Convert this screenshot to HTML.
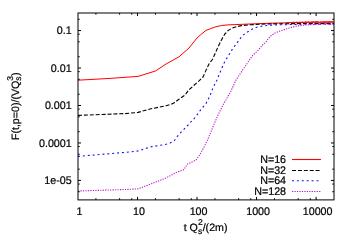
<!DOCTYPE html>
<html><head><meta charset="utf-8"><title>plot</title>
<style>
html,body{margin:0;padding:0;background:#fff;}
body{width:350px;height:245px;overflow:hidden;font-family:"Liberation Sans",sans-serif;}
svg{display:block;}
.t text{font-family:"Liberation Sans",sans-serif;fill:#000;stroke:#000;stroke-width:0.22px;text-rendering:geometricPrecision;white-space:pre;}
</style></head><body>
<svg width="350" height="245" viewBox="0 0 350 245">
<rect x="0" y="0" width="350" height="245" fill="#fff"/>
<g fill="none" stroke-linejoin="round">
<polyline points="78.0,80.2 110.0,78.4 138.0,76.4 155.5,71.0 166.0,64.0 179.0,56.8 184.0,52.4 189.0,48.0 193.0,43.0 197.0,38.0 200.7,34.7 205.9,30.4 210.0,28.9 215.0,27.0 221.3,25.5 228.0,24.9 240.0,24.4 255.0,23.8 270.0,23.2 305.0,22.4 334.0,22.2" stroke="#ff0000" stroke-width="1.0"/>
<polyline points="286.0,22.6 286.8,22.5 287.5,22.5 288.2,22.5 289.0,22.4 289.8,22.5 290.5,22.5 291.2,22.6 292.0,22.4 292.8,22.5 293.5,22.1 294.2,22.5 295.0,22.1 295.8,22.5 296.5,22.1 297.2,22.4 298.0,22.0 298.8,22.6 299.5,22.0 300.2,22.6 301.0,21.8 301.8,22.4 302.5,21.7 303.2,22.5 304.0,22.0 304.8,22.3 305.5,21.5 306.2,22.5 307.0,21.5 307.8,22.6 308.5,21.5 309.2,22.6 310.0,21.7 310.8,22.6 311.5,21.6 312.2,22.7 313.0,21.2 313.8,22.3 314.5,21.9 315.2,22.3 316.0,21.0 316.8,22.4 317.5,21.4 318.2,22.3 319.0,21.5 319.8,22.4 320.5,21.6 321.2,22.4 322.0,21.4 322.8,22.6 323.5,21.3 324.2,22.6 325.0,21.1 325.8,22.6 326.5,21.3 327.2,22.2 328.0,21.1 328.8,22.5 329.5,21.0 330.2,22.4 331.0,21.2 331.8,22.2 332.5,21.0 333.2,22.3" stroke="#ff0000" stroke-width="0.9"/>
<polyline points="78.0,115.4 125.0,113.6 138.0,112.4 150.0,109.0 166.0,105.8 173.0,103.6 178.6,99.5 185.0,95.0 188.6,90.2 194.3,85.0 199.3,80.7 203.0,77.0 206.4,69.4 209.3,63.3 212.1,60.0 213.9,56.3 216.7,50.0 217.5,48.0 221.4,40.0 224.8,34.0 228.1,30.6 231.6,28.3 234.6,27.2 241.4,25.6 250.6,24.8 259.7,24.3 270.0,23.9 305.0,23.5 334.0,23.6" stroke="#000" stroke-width="1.1" stroke-dasharray="4.0 1.9"/>
<polyline points="78.0,156.4 125.0,152.4 138.0,151.0 150.0,147.0 166.0,144.3 170.0,143.0 174.3,140.7 177.1,136.7 180.0,133.3 183.6,129.7 187.1,126.1 190.3,122.4 193.6,119.3 196.4,115.7 201.0,109.4 206.0,103.4 209.8,96.2 213.3,87.0 217.0,80.0 221.0,70.0 225.0,61.0 228.3,56.0 232.5,49.0 238.0,41.6 241.4,37.0 244.9,33.5 248.9,31.1 252.9,28.7 257.4,27.0 262.0,26.1 266.6,25.5 270.0,25.2 280.0,24.8 305.0,24.2 334.0,24.0" stroke="#1010ff" stroke-width="1.1" stroke-dasharray="2.0 2.9"/>
<polyline points="78.0,191.0 125.0,189.5 138.0,188.9 150.0,184.3 166.0,178.0 176.0,172.6 184.0,169.6 187.0,164.4 196.0,160.0 200.0,154.5 204.0,147.0 208.0,139.0 211.0,131.5 215.0,122.0 219.0,113.0 223.0,105.0 227.0,98.0 231.0,91.0 236.0,80.0 242.0,71.0 248.0,62.0 253.0,55.0 258.0,50.5 262.5,45.0 266.0,42.0 268.5,38.3 271.0,35.8 275.0,33.0 279.3,31.3 283.6,29.8 289.3,28.0 296.4,26.1 305.0,25.0 320.0,24.3 334.0,24.1" stroke="#b414c8" stroke-width="1.1" stroke-dasharray="1.2 1.27"/>
<path d="M292 159.5H321" stroke="#ff0000" stroke-width="1.1"/>
<path d="M292 170.45H321" stroke="#000" stroke-width="1.1" stroke-dasharray="4.0 1.9"/>
<path d="M292 180.8H321" stroke="#1010ff" stroke-width="1.1" stroke-dasharray="2.0 2.9"/>
<path d="M292 191.45H321" stroke="#b414c8" stroke-width="1.1" stroke-dasharray="1.2 1.27"/>
</g>
<path d="M95.92 199.9V198.20M95.92 13.0V14.70M119.60 199.9V198.20M119.60 13.0V14.70M131.75 199.9V198.20M131.75 13.0V14.70M137.52 199.9V196.90M137.52 13.0V16.00M155.44 199.9V198.20M155.44 13.0V14.70M179.12 199.9V198.20M179.12 13.0V14.70M191.27 199.9V198.20M191.27 13.0V14.70M197.04 199.9V196.90M197.04 13.0V16.00M214.96 199.9V198.20M214.96 13.0V14.70M238.64 199.9V198.20M238.64 13.0V14.70M250.79 199.9V198.20M250.79 13.0V14.70M256.56 199.9V196.90M256.56 13.0V16.00M274.48 199.9V198.20M274.48 13.0V14.70M298.17 199.9V198.20M298.17 13.0V14.70M310.31 199.9V198.20M310.31 13.0V14.70M316.08 199.9V196.90M316.08 13.0V16.00M78.0 191.71H79.70M334.0 191.71H332.30M78.0 184.06H79.70M334.0 184.06H332.30M78.0 180.43H81.00M334.0 180.43H331.00M78.0 169.15H79.70M334.0 169.15H332.30M78.0 154.24H79.70M334.0 154.24H332.30M78.0 146.59H79.70M334.0 146.59H332.30M78.0 142.96H81.00M334.0 142.96H331.00M78.0 131.68H79.70M334.0 131.68H332.30M78.0 116.77H79.70M334.0 116.77H332.30M78.0 109.12H79.70M334.0 109.12H332.30M78.0 105.49H81.00M334.0 105.49H331.00M78.0 94.21H79.70M334.0 94.21H332.30M78.0 79.30H79.70M334.0 79.30H332.30M78.0 71.65H79.70M334.0 71.65H332.30M78.0 68.02H81.00M334.0 68.02H331.00M78.0 56.74H79.70M334.0 56.74H332.30M78.0 41.83H79.70M334.0 41.83H332.30M78.0 34.18H79.70M334.0 34.18H332.30M78.0 30.55H81.00M334.0 30.55H331.00M78.0 19.27H79.70M334.0 19.27H332.30" stroke="#000" stroke-width="1" fill="none"/>
<rect x="78.0" y="13.0" width="256.0" height="186.9" fill="none" stroke="#000" stroke-width="1"/>
<g class="t" opacity="0.999"><text transform="translate(56.83 34.43) scale(1 1.03)" font-size="10.70">0.1</text><text transform="translate(50.87 71.90) scale(1 1.03)" font-size="10.70">0.01</text><text transform="translate(44.92 109.37) scale(1 1.03)" font-size="10.70">0.001</text><text transform="translate(38.97 146.84) scale(1 1.03)" font-size="10.70">0.0001</text><text transform="translate(44.33 184.31) scale(1 1.03)" font-size="10.70">1e-05</text><text transform="translate(76.57 214.50) scale(1 1.03)" font-size="10.70">1</text><text transform="translate(133.12 214.50) scale(1 1.03)" font-size="10.70">10</text><text transform="translate(189.67 214.50) scale(1 1.03)" font-size="10.70">100</text><text transform="translate(246.21 214.50) scale(1 1.03)" font-size="10.70">1000</text><text transform="translate(302.76 214.50) scale(1 1.03)" font-size="10.70">10000</text><text transform="translate(260.22 163.18) scale(1 1.03)" font-size="10.70">N=16</text><text transform="translate(260.22 174.13) scale(1 1.03)" font-size="10.70">N=32</text><text transform="translate(260.22 184.48) scale(1 1.03)" font-size="10.70">N=64</text><text transform="translate(254.27 195.13) scale(1 1.03)" font-size="10.70">N=128</text><text transform="translate(183.70 230.90) scale(1 1.0)" font-size="10.65">t Q</text><text transform="translate(197.90 233.50) scale(1 1.0)" font-size="8.52">s</text><text transform="translate(197.90 224.70) scale(1 1.0)" font-size="8.52">2</text><text transform="translate(202.64 230.90) scale(1 1.0)" font-size="10.65">/(2m)</text><text transform="translate(18.70 140.10) rotate(-90) scale(1 1.0)" font-size="10.65">F(t,p=0)/(VQ</text><text transform="translate(21.30 80.63) rotate(-90) scale(1 1.0)" font-size="8.52">s</text><text transform="translate(12.50 80.63) rotate(-90) scale(1 1.0)" font-size="8.52">3</text><text transform="translate(18.70 75.89) rotate(-90) scale(1 1.0)" font-size="10.65">)</text></g>
</svg>
</body></html>
